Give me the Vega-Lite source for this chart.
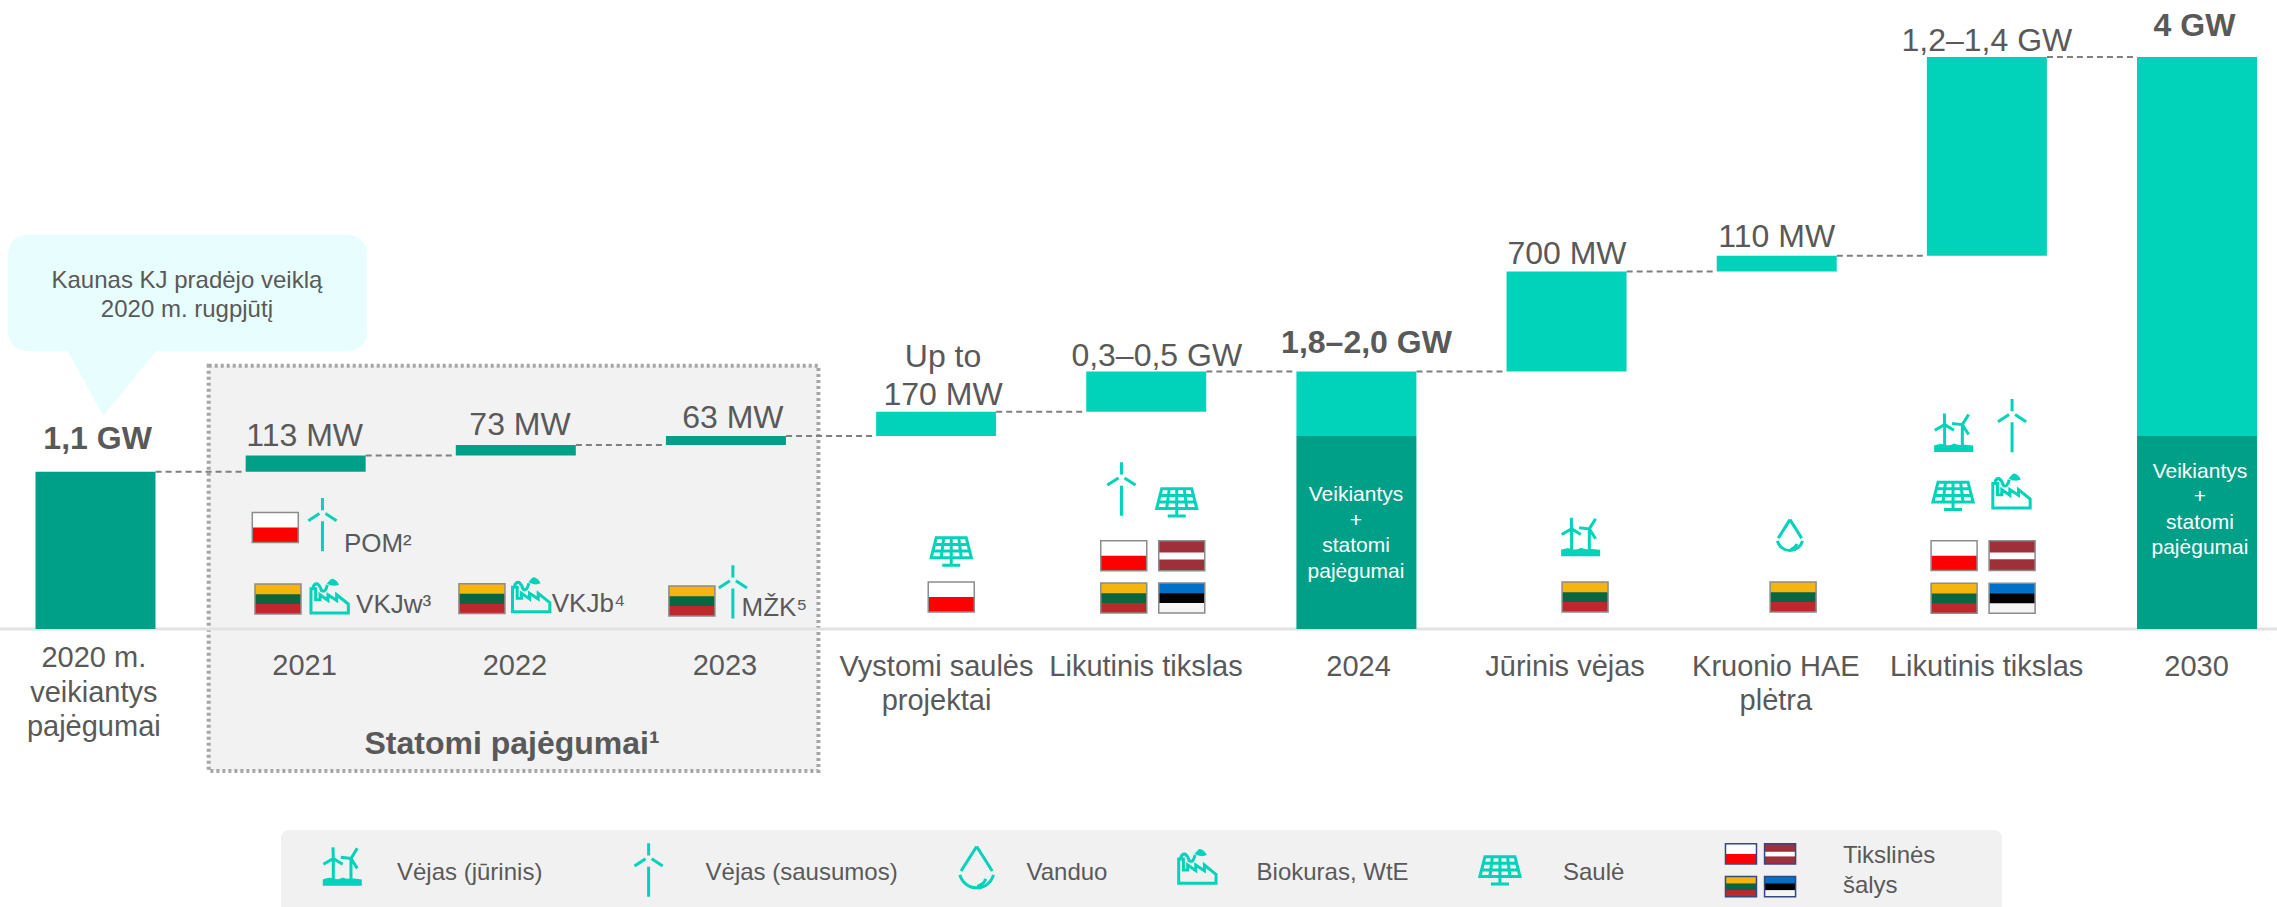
{
"$schema":"https://vega.github.io/schema/vega-lite/v6.json",
"autosize":{"type":"none"},
"width":2277,"height":907,"padding":0,"background":"#ffffff",
"config":{"view":{"stroke":null},"font":"Liberation Sans"},
"datasets":{
"bars":[
{"name":"2020 m. veikiantys pajėgumai","slot":0,"level":1.1,"base":0,"phase":"built"},
{"name":"2021","slot":1,"level":1.213,"base":1.1,"phase":"built"},
{"name":"2022","slot":2,"level":1.286,"base":1.213,"phase":"built"},
{"name":"2023","slot":3,"level":1.349,"base":1.286,"phase":"built"},
{"name":"Vystomi saulės projektai","slot":4,"level":1.519,"base":1.349,"phase":"planned"},
{"name":"Likutinis tikslas","slot":5,"level":1.8,"base":1.519,"phase":"planned"},
{"name":"2024","slot":6,"level":1.349,"base":0,"phase":"built"},
{"name":"2024","slot":6,"level":1.8,"base":1.349,"phase":"planned"},
{"name":"Jūrinis vėjas","slot":7,"level":2.5,"base":1.8,"phase":"planned"},
{"name":"Kruonio HAE plėtra","slot":8,"level":2.61,"base":2.5,"phase":"planned"},
{"name":"Likutinis tikslas","slot":9,"level":4,"base":2.61,"phase":"planned"},
{"name":"2030","slot":10,"level":1.349,"base":0,"phase":"built"},
{"name":"2030","slot":10,"level":4,"base":1.349,"phase":"planned"}
],
"links":[
{"slot":0.286,"slotEnd":0.714,"level":1.1},{"slot":1.286,"slotEnd":1.714,"level":1.213},{"slot":2.286,"slotEnd":2.714,"level":1.286},
{"slot":3.286,"slotEnd":3.714,"level":1.349},{"slot":4.286,"slotEnd":4.714,"level":1.519},{"slot":5.286,"slotEnd":5.714,"level":1.8},
{"slot":6.286,"slotEnd":6.714,"level":1.8},{"slot":7.286,"slotEnd":7.714,"level":2.5},{"slot":8.286,"slotEnd":8.714,"level":2.61},{"slot":9.286,"slotEnd":9.714,"level":4}
],
"flags":[
{"flag":"PL","group":"chart","slot":0.8556,"level":0.71},
{"flag":"LT","group":"chart","slot":0.8684,"level":0.21},
{"flag":"LT","group":"chart","slot":1.839,"level":0.2126},
{"flag":"LT","group":"chart","slot":2.838,"level":0.196},
{"flag":"PL","group":"chart","slot":4.072,"level":0.224},
{"flag":"PL","group":"chart","slot":4.893,"level":0.5126},
{"flag":"LV","group":"chart","slot":5.169,"level":0.5126},
{"flag":"LT","group":"chart","slot":4.893,"level":0.217},
{"flag":"EE","group":"chart","slot":5.169,"level":0.217},
{"flag":"LT","group":"chart","slot":7.088,"level":0.224},
{"flag":"LT","group":"chart","slot":8.078,"level":0.224},
{"flag":"PL","group":"chart","slot":8.844,"level":0.513},
{"flag":"LV","group":"chart","slot":9.12,"level":0.513},
{"flag":"LT","group":"chart","slot":8.844,"level":0.215},
{"flag":"EE","group":"chart","slot":9.12,"level":0.215},
{"flag":"PL","group":"legend","slot":7.83,"level":-1.573},
{"flag":"LV","group":"legend","slot":8.016,"level":-1.573},
{"flag":"LT","group":"legend","slot":7.83,"level":-1.802},
{"flag":"EE","group":"legend","slot":8.016,"level":-1.802}
],
"icons":[
{"icon":"onshore","slot":1.08,"level":0.73},
{"icon":"factory","slot":1.119,"level":0.228},
{"icon":"factory","slot":2.078,"level":0.238},
{"icon":"onshore","slot":3.033,"level":0.26},
{"icon":"solar","slot":4.072,"level":0.545},
{"icon":"onshore","slot":4.882,"level":0.979},
{"icon":"solar","slot":5.145,"level":0.888},
{"icon":"offshore","slot":7.064,"level":0.631},
{"icon":"dropSmall","slot":8.063,"level":0.645},
{"icon":"offshore","slot":8.839,"level":1.36},
{"icon":"onshore","slot":9.12,"level":1.422},
{"icon":"solar","slot":8.839,"level":0.934},
{"icon":"factory","slot":9.122,"level":0.963},
{"icon":"offshore","slot":1.1715,"level":-1.674},
{"icon":"onshore","slot":2.632,"level":-1.685},
{"icon":"drop","slot":4.193,"level":-1.68},
{"icon":"factory","slot":5.248,"level":-1.662},
{"icon":"solar","slot":6.683,"level":-1.685}
],
"texts":[
{"style":"value","text":"113 MW","slot":0.995,"level":1.282},
{"style":"value","text":"73 MW","slot":2.02,"level":1.354},
{"style":"value","text":"63 MW","slot":3.033,"level":1.406},
{"style":"value2","text":"Up to\n170 MW","slot":4.033,"level":1.834},
{"style":"value","text":"0,3–0,5 GW","slot":5.05,"level":1.839},
{"style":"value","text":"700 MW","slot":7.002,"level":2.552},
{"style":"value","text":"110 MW","slot":8.0,"level":2.674},
{"style":"value","text":"1,2–1,4 GW","slot":9.0,"level":4.039},
{"style":"total","text":"1,1 GW","slot":0.01,"level":1.2615},
{"style":"total","text":"1,8–2,0 GW","slot":6.048,"level":1.932},
{"style":"total","text":"4 GW","slot":9.988,"level":4.148},
{"style":"cat","text":"2020 m.\nveikiantys\npajėgumai","slot":-0.008,"level":-0.266},
{"style":"cat","text":"2021","slot":0.995,"level":-0.322},
{"style":"cat","text":"2022","slot":1.996,"level":-0.322},
{"style":"cat","text":"2023","slot":2.995,"level":-0.322},
{"style":"cat","text":"Vystomi saulės\nprojektai","slot":4.002,"level":-0.328},
{"style":"cat","text":"Likutinis tikslas","slot":4.999,"level":-0.328},
{"style":"cat","text":"2024","slot":6.01,"level":-0.328},
{"style":"cat","text":"Jūrinis vėjas","slot":6.993,"level":-0.328},
{"style":"cat","text":"Kruonio HAE\nplėtra","slot":7.996,"level":-0.328},
{"style":"cat","text":"Likutinis tikslas","slot":8.999,"level":-0.328},
{"style":"cat","text":"2030","slot":9.998,"level":-0.328},
{"style":"boxTitle","text":"Statomi pajėgumai¹","slot":1.982,"level":-0.874},
{"style":"inner","text":"Veikiantys\n+\nstatomi\npajėgumai","slot":5.998,"level":0.895},
{"style":"inner","text":"Veikiantys\n+\nstatomi\npajėgumai","slot":10.014,"level":1.056},
{"style":"callout","text":"Kaunas KJ pradėjo veiklą\n2020 m. rugpjūtį","slot":0.435,"level":2.385},
{"style":"project","text":"POM²","slot":1.182,"level":0.538},
{"style":"project","text":"VKJw³","slot":1.24,"level":0.112},
{"style":"project","text":"VKJb⁴","slot":2.171,"level":0.119},
{"style":"project","text":"MŽK⁵","slot":3.074,"level":0.093},
{"style":"legend","text":"Vėjas (jūrinis)","slot":1.4347,"level":-1.755},
{"style":"legend","text":"Vėjas (sausumos)","slot":2.903,"level":-1.755},
{"style":"legend","text":"Vanduo","slot":4.43,"level":-1.755},
{"style":"legend","text":"Biokuras, WtE","slot":5.525,"level":-1.755},
{"style":"legend","text":"Saulė","slot":6.983,"level":-1.755},
{"style":"legend2","text":"Tikslinės\nšalys","slot":8.315,"level":-1.636}
]
},
"encoding":{
"x":{"field":"slot","type":"quantitative","axis":null,"scale":{"domain":[-0.4544,10.3806],"nice":false,"zero":false,"padding":0}},
"y":{"field":"level","type":"quantitative","axis":null,"scale":{"domain":[-1.944,4.3986],"nice":false,"zero":false,"padding":0}}
},
"layer":[
{"data":{"values":[{"slot":0.8827,"slotEnd":9.072,"level":-1.4056,"levelEnd":-1.944}]},
 "mark":{"type":"rect","fill":"#f1f1f1","cornerRadiusTopLeft":8,"cornerRadiusTopRight":8},
 "encoding":{"x2":{"field":"slotEnd"},"y2":{"field":"levelEnd"}}},
{"data":{"values":[{"slot":0.5387,"slotEnd":3.44,"level":1.841,"levelEnd":-0.993}]},
 "mark":{"type":"rect","fill":"#f2f2f2","stroke":"#a6a6a6","strokeWidth":4,"strokeDash":[3,3]},
 "encoding":{"x2":{"field":"slotEnd"},"y2":{"field":"levelEnd"}}},
{"data":{"values":[{"slot":-0.4544,"slotEnd":10.3806,"level":0}]},
 "mark":{"type":"rule","stroke":"#e2e2e2","strokeWidth":3},
 "encoding":{"x2":{"field":"slotEnd"}}},
{"data":{"name":"links"},
 "mark":{"type":"rule","stroke":"#7f7f7f","strokeWidth":2,"strokeDash":[6,4]},
 "encoding":{"x2":{"field":"slotEnd"}}},
{"data":{"name":"bars"},
 "mark":{"type":"bar","size":120},
 "encoding":{"y2":{"field":"base"},
  "color":{"field":"phase","type":"nominal","legend":null,"scale":{"domain":["built","planned"],"range":["#00a088","#00d3ba"]}}}},
{"data":{"values":[{"slot":0.438,"level":2.35}]},
 "mark":{"type":"point","filled":true,"fill":"#e8fdfd","opacity":1,"size":3600,"stroke":null,
  "shape":"M-5.253,-1.94 L5.253,-1.94 Q5.983,-1.94 5.983,-1.21 L5.983,1.217 Q5.983,1.947 5.253,1.947 L-1.05,1.947 L-2.817,4.1 L-3.983,1.947 L-5.253,1.947 Q-5.983,1.947 -5.983,1.217 L-5.983,-1.21 Q-5.983,-1.94 -5.253,-1.94 Z"}},
{"data":{"name":"flags"},
 "mark":{"type":"point","filled":true,"opacity":1,"strokeWidth":0},
 "encoding":{
  "shape":{"field":"flag","type":"nominal","legend":null,"scale":{"domain":["PL","LV","LT","EE"],"range":["M-1,-0.65 L1,-0.65 L1,0.65 L-1,0.65 Z","M-1,-0.65 L1,-0.65 L1,0.65 L-1,0.65 Z","M-1,-0.65 L1,-0.65 L1,0.65 L-1,0.65 Z","M-1,-0.65 L1,-0.65 L1,0.65 L-1,0.65 Z"]}},
  "size":{"field":"group","type":"ordinal","legend":null,"scale":{"domain":["chart","legend"],"range":[2116,961]}},
  "color":{"field":"flag","type":"nominal","legend":null,"scale":{"domain":["PL","LV","LT","EE"],"range":["#ffffff","#9e3039","#f6b40e","#0070c8"]}}}},
{"data":{"name":"flags"},
 "mark":{"type":"point","filled":true,"opacity":1,"strokeWidth":0},
 "encoding":{
  "shape":{"field":"flag","type":"nominal","legend":null,"scale":{"domain":["PL","LV","LT","EE"],"range":["M-1,0 L1,0 L1,0.65 L-1,0.65 Z","M-1,-0.14 L1,-0.14 L1,0.16 L-1,0.16 Z","M-1,-0.21 L1,-0.21 L1,0.65 L-1,0.65 Z","M-1,-0.21 L1,-0.21 L1,0.65 L-1,0.65 Z"]}},
  "size":{"field":"group","type":"ordinal","legend":null,"scale":{"domain":["chart","legend"],"range":[2116,961]}},
  "color":{"field":"flag","type":"nominal","legend":null,"scale":{"domain":["PL","LV","LT","EE"],"range":["#ff0000","#ffffff","#0a6640","#000000"]}}}},
{"data":{"name":"flags"},
 "transform":[{"filter":"datum.flag=='LT'||datum.flag=='EE'"}],
 "mark":{"type":"point","filled":true,"opacity":1,"strokeWidth":0},
 "encoding":{
  "shape":{"field":"flag","type":"nominal","legend":null,"scale":{"domain":["LT","EE"],"range":["M-1,0.22 L1,0.22 L1,0.65 L-1,0.65 Z","M-1,0.22 L1,0.22 L1,0.65 L-1,0.65 Z"]}},
  "size":{"field":"group","type":"ordinal","legend":null,"scale":{"domain":["chart","legend"],"range":[2116,961]}},
  "color":{"field":"flag","type":"nominal","legend":null,"scale":{"domain":["LT","EE"],"range":["#bf272d","#f5f5f5"]}}}},
{"data":{"name":"flags"},
 "mark":{"type":"point","filled":false,"opacity":1,"strokeWidth":1.5,"shape":"M-1,-0.65 L1,-0.65 L1,0.65 L-1,0.65 Z"},
 "encoding":{
  "size":{"field":"group","type":"ordinal","legend":null,"scale":{"domain":["chart","legend"],"range":[2116,961]}},
  "stroke":{"field":"group","type":"nominal","legend":null,"scale":{"domain":["chart","legend"],"range":["#8c8c8c","#34497f"]}}}},
{"data":{"name":"icons"},
 "mark":{"type":"point","filled":false,"opacity":1,"size":3600,"stroke":"#00d3ba","strokeWidth":3},
 "encoding":{
  "shape":{"field":"icon","type":"nominal","legend":null,"scale":{"domain":["onshore","offshore","solar","factory","drop","dropSmall"],"range":[
   "M0,-0.89 L0,-0.48 M0,-0.11 L0,0.89 M-0.1,-0.37 L-0.47,-0.13 M0.1,-0.37 L0.47,-0.13",
   "M-0.28,-0.33 L-0.28,0.35 M-0.28,-0.33 L-0.29,-0.7 M-0.28,-0.33 L-0.61,-0.14 M-0.28,-0.33 L0.03,-0.14 M0.31,-0.33 L0.31,0.35 M0.31,-0.33 L0.52,-0.67 M0.31,-0.33 L-0.03,-0.37 M0.31,-0.33 L0.52,0",
   "M-0.5,-0.44 L0.5,-0.44 L0.67,0.22 L-0.67,0.22 Z M-0.557,-0.22 L0.557,-0.22 M-0.613,0 L0.613,0 M-0.25,-0.44 L-0.335,0.22 M0,-0.44 L0,0.22 M0.25,-0.44 L0.335,0.22 M0,0.22 L0,0.47 M-0.3,0.47 L0.3,0.47",
   "M-0.5,-0.256 L-0.656,-0.256 L-0.656,0.556 L0.589,0.556 L0.589,0.256 L0.2,-0.056 L0.2,0.133 L-0.089,-0.056 L-0.089,0.133 L-0.356,-0.056 L-0.356,0.111 L-0.5,0.111 Z M-0.59,-0.28 Q-0.56,-0.44 -0.44,-0.42 Q-0.33,-0.33 -0.31,-0.2 Q-0.17,-0.11 -0.11,-0.39",
   "M0,-0.76 L-0.52,0.06 M0,-0.76 L0.52,0.06 M-0.56,0.19 A0.58,0.58 0 0 0 0.56,0.19 M0.02,0.57 Q0.25,0.5 0.3,0.32",
   "M0,-0.57 L-0.39,0.045 M0,-0.57 L0.39,0.045 M-0.42,0.14 A0.435,0.435 0 0 0 0.42,0.14 M0.015,0.43 Q0.19,0.375 0.225,0.24"
  ]}}}},
{"data":{"name":"icons"},
 "transform":[{"filter":"datum.icon=='factory'||datum.icon=='offshore'"}],
 "mark":{"type":"point","filled":true,"fill":"#00d3ba","opacity":1,"size":3600,"strokeWidth":0},
 "encoding":{
  "shape":{"field":"icon","type":"nominal","legend":null,"scale":{"domain":["factory","offshore"],"range":[
   "M-0.13,-0.42 Q0,-0.6 0.06,-0.59 Q0.2,-0.55 0.28,-0.39 Q0.1,-0.3 -0.13,-0.42 Z",
   "M-0.63,0.37 Q-0.45,0.28 -0.28,0.33 Q-0.1,0.4 0.03,0.3 Q0.2,0.38 0.31,0.33 Q0.45,0.35 0.67,0.37 L0.67,0.58 L-0.63,0.58 Z"
  ]}}}},
{"data":{"name":"texts"},"transform":[{"filter":"datum.style=='value'"}],
 "mark":{"type":"text","fontSize":32,"fill":"#595959","align":"center","baseline":"alphabetic","font":"Liberation Sans"},
 "encoding":{"text":{"field":"text"}}},
{"data":{"name":"texts"},"transform":[{"filter":"datum.style=='value2'"}],
 "mark":{"type":"text","fontSize":32,"fill":"#595959","align":"center","baseline":"alphabetic","lineBreak":"\n","lineHeight":38,"font":"Liberation Sans"},
 "encoding":{"text":{"field":"text"}}},
{"data":{"name":"texts"},"transform":[{"filter":"datum.style=='total'"}],
 "mark":{"type":"text","fontSize":32,"fontWeight":"bold","fill":"#595959","align":"center","baseline":"alphabetic","font":"Liberation Sans"},
 "encoding":{"text":{"field":"text"}}},
{"data":{"name":"texts"},"transform":[{"filter":"datum.style=='cat'"}],
 "mark":{"type":"text","fontSize":29,"fill":"#595959","align":"center","baseline":"alphabetic","lineBreak":"\n","lineHeight":34.5,"font":"Liberation Sans"},
 "encoding":{"text":{"field":"text"}}},
{"data":{"name":"texts"},"transform":[{"filter":"datum.style=='boxTitle'"}],
 "mark":{"type":"text","fontSize":32,"fontWeight":"bold","fill":"#595959","align":"center","baseline":"alphabetic","font":"Liberation Sans"},
 "encoding":{"text":{"field":"text"}}},
{"data":{"name":"texts"},"transform":[{"filter":"datum.style=='inner'"}],
 "mark":{"type":"text","fontSize":21,"fill":"#ffffff","align":"center","baseline":"alphabetic","lineBreak":"\n","lineHeight":25.5,"font":"Liberation Sans"},
 "encoding":{"text":{"field":"text"}}},
{"data":{"name":"texts"},"transform":[{"filter":"datum.style=='callout'"}],
 "mark":{"type":"text","fontSize":24,"fill":"#595959","align":"center","baseline":"alphabetic","lineBreak":"\n","lineHeight":29,"font":"Liberation Sans"},
 "encoding":{"text":{"field":"text"}}},
{"data":{"name":"texts"},"transform":[{"filter":"datum.style=='project'"}],
 "mark":{"type":"text","fontSize":26,"fill":"#595959","align":"left","baseline":"alphabetic","font":"Liberation Sans"},
 "encoding":{"text":{"field":"text"}}},
{"data":{"name":"texts"},"transform":[{"filter":"datum.style=='legend'"}],
 "mark":{"type":"text","fontSize":24,"fill":"#595959","align":"left","baseline":"alphabetic","font":"Liberation Sans"},
 "encoding":{"text":{"field":"text"}}},
{"data":{"name":"texts"},"transform":[{"filter":"datum.style=='legend2'"}],
 "mark":{"type":"text","fontSize":24,"fill":"#595959","align":"left","baseline":"alphabetic","lineBreak":"\n","lineHeight":30,"font":"Liberation Sans"},
 "encoding":{"text":{"field":"text"}}}
],
"resolve":{"scale":{"color":"independent","shape":"independent","stroke":"independent"}}
}
